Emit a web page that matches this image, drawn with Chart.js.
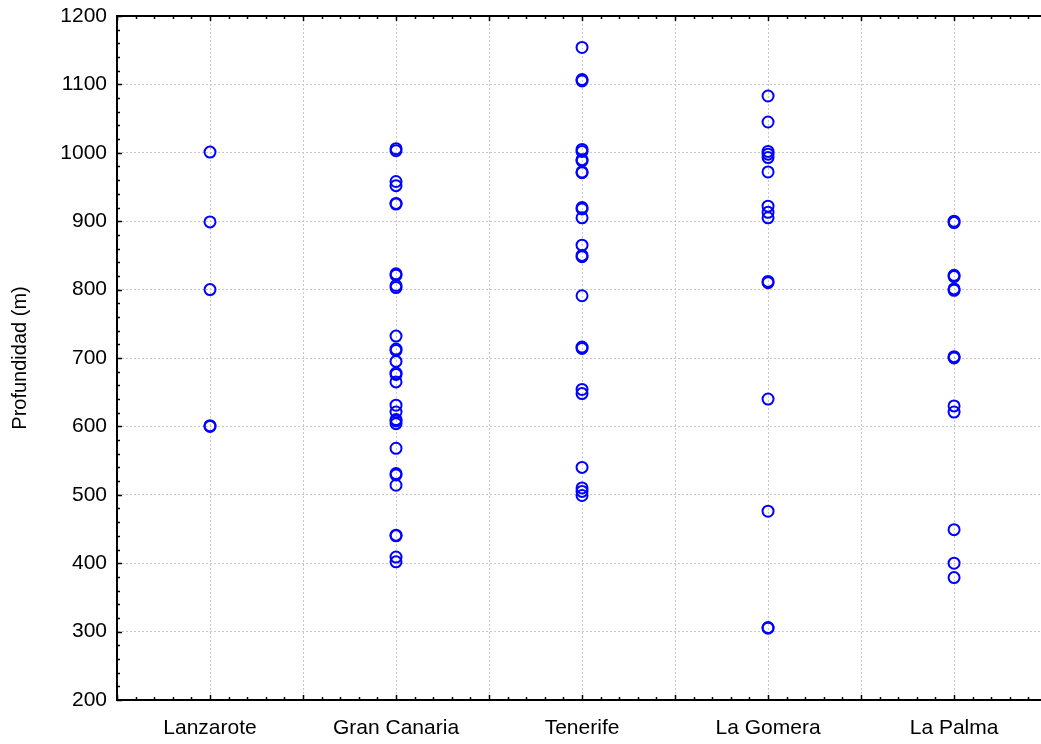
<!DOCTYPE html>
<html>
<head>
<meta charset="utf-8">
<script src="https://cdn.jsdelivr.net/npm/chart.js@4/dist/chart.umd.min.js"></script>
<style>
  html, body { margin: 0; padding: 0; background: #fff; overflow: hidden; }
  #wrap { width: 1041px; height: 744px; overflow: hidden; }
</style>
</head>
<body>
<div id="wrap"><canvas id="chart" width="1049" height="744"></canvas></div>
<script>
// islands on the x axis (positions 1..5)
const islands = ["Lanzarote", "Gran Canaria", "Tenerife", "La Gomera", "La Palma"];

// depth readings (m) per island
const lanzarote = [1001, 899, 800, 601, 600];
const granCanaria = [1006, 1003, 958, 952, 926, 925, 823, 821, 806, 803, 732, 713, 711, 695,
    678, 676, 665, 631, 621, 610, 608, 604, 568, 531, 529, 514, 441, 440, 409, 402];
const tenerife = [1154, 1107, 1105, 1005, 1002, 990, 988, 972, 971, 920, 918, 905, 865, 850,
    848, 791, 716, 714, 654, 648, 540, 510, 505, 499];
const laGomera = [1083, 1045, 1002, 998, 993, 972, 922, 913, 905, 812, 810, 640, 476, 306, 305];
const laPalma = [900, 898, 821, 819, 801, 799, 702, 700, 630, 621, 449, 400, 379];

const depthTicks = [200, 300, 400, 500, 600, 700, 800, 900, 1000, 1100, 1200];
const islandTicks = [0.5, 1, 1.5, 2, 2.5, 3, 3.5, 4, 4.5, 5];

const series = [lanzarote, granCanaria, tenerife, laGomera, laPalma];
const fontFamily = "'Liberation Sans', Arial, sans-serif";

// inward tick marks + top frame line
const tickMarks = {
    id: "tickMarks",
    afterDraw(chart) {
        const { ctx, chartArea: a, scales: { x, y } } = chart;
        ctx.save();
        ctx.strokeStyle = "#000";
        ctx.lineWidth = 2;
        ctx.beginPath();
        ctx.moveTo(a.left, a.top);
        ctx.lineTo(a.right, a.top);
        ctx.stroke();

        ctx.lineWidth = 1.5;
        ctx.beginPath();
        for (let i = 0; i <= 50; i++) {
            const v = 200 + i * 20;
            const py = Math.round(y.getPixelForValue(v)) + 0.5;
            const len = i % 5 === 0 ? 5 : 3;
            ctx.moveTo(a.left, py);
            ctx.lineTo(a.left + len, py);
        }
        for (let i = 5; i / 10 <= x.max; i++) {
            const px = Math.round(x.getPixelForValue(i / 10)) + 0.5;
            const len = i % 5 === 0 ? 5 : 3;
            ctx.moveTo(px, a.bottom);
            ctx.lineTo(px, a.bottom - len);
            ctx.moveTo(px, a.top);
            ctx.lineTo(px, a.top + len);
        }
        ctx.stroke();
        ctx.restore();
    }
};

new Chart(document.getElementById("chart"), {
    type: "scatter",
    data: {
        datasets: series.map((vals, i) => ({
            label: islands[i],
            data: vals.map(v => ({ x: i + 1, y: v })),
            pointStyle: "circle",
            pointRadius: 5.5,
            pointBorderWidth: 2,
            borderColor: "#0000ff",
            backgroundColor: "rgba(0,0,0,0)"
        }))
    },
    options: {
        responsive: false,
        animation: false,
        events: [],
        layout: { padding: { top: 16, left: 0, right: 0, bottom: 0 } },
        plugins: {
            legend: { display: false },
            tooltip: { enabled: false }
        },
        scales: {
            x: {
                type: "linear",
                min: 0.5,
                max: 5.47,
                afterBuildTicks: (scale) => {
                    scale.ticks = islandTicks.map(v => ({ value: v }));
                },
                afterFit: (scale) => {
                    scale.height = 44;
                    scale.paddingLeft = 0;
                    scale.paddingRight = 0;
                },
                ticks: {
                    autoSkip: false,
                    maxRotation: 0,
                    padding: 16,
                    color: "#000",
                    font: { family: fontFamily, size: 21 },
                    callback: (v) => Number.isInteger(v) ? islands[v - 1] : ""
                },
                grid: { color: "#c8c8c8", lineWidth: 1, drawTicks: false },
                border: { display: true, color: "#000", width: 2, dash: [2, 2] }
            },
            y: {
                min: 200,
                max: 1200,
                afterBuildTicks: (scale) => {
                    scale.ticks = depthTicks.map(v => ({ value: v }));
                },
                afterFit: (scale) => {
                    scale.width = 117;
                    scale.paddingTop = 0;
                    scale.paddingBottom = 0;
                },
                ticks: {
                    padding: 10,
                    color: "#000",
                    font: { family: fontFamily, size: 21 },
                    callback: (v) => String(v)
                },
                title: {
                    display: true,
                    text: "Profundidad (m)",
                    color: "#000",
                    font: { family: fontFamily, size: 20 },
                    padding: { top: 8, bottom: 0 }
                },
                grid: { color: "#c8c8c8", lineWidth: 1, drawTicks: false },
                border: { display: true, color: "#000", width: 2, dash: [2, 2] }
            }
        }
    },
    plugins: [tickMarks]
});
</script>
</body>
</html>
